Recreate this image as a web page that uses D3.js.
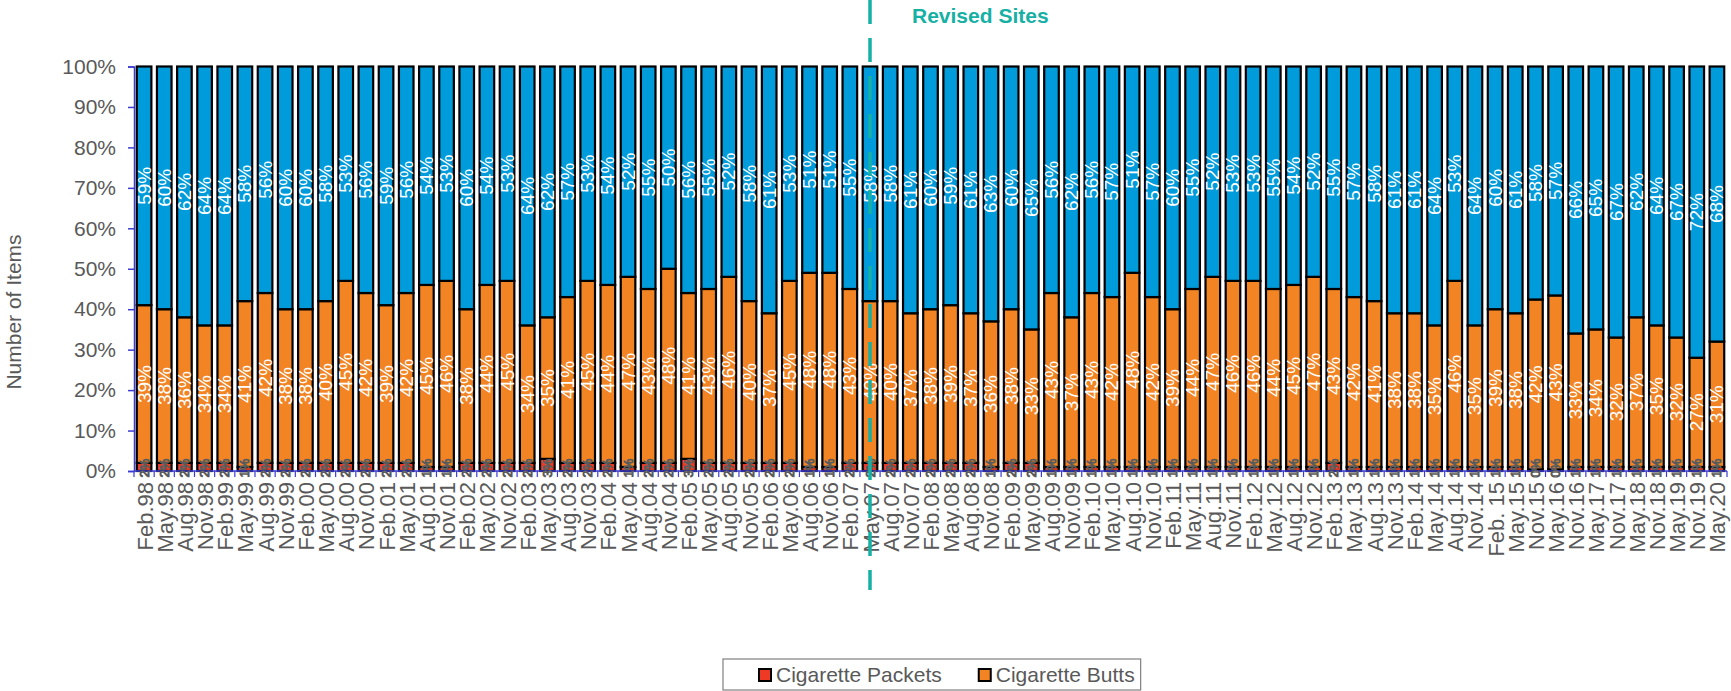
<!DOCTYPE html>
<html>
<head>
<meta charset="utf-8">
<script src="https://cdn.jsdelivr.net/npm/d3@7"></script>
<style>
  html, body { margin: 0; padding: 0; background: #ffffff; }
  svg { display: block; font-family: "Liberation Sans", Arial, sans-serif; }
</style>
</head>
<body>
<svg id="chart" width="1731" height="691"></svg>
<script>
const categories = [
  "Feb.98","May.98","Aug.98","Nov.98","Feb.99","May.99","Aug.99","Nov.99",
  "Feb.00","May.00","Aug.00","Nov.00","Feb.01","May.01","Aug.01","Nov.01",
  "Feb.02","May.02","Nov.02","Feb.03","May.03","Aug.03","Nov.03",
  "Feb.04","May.04","Aug.04","Nov.04","Feb.05","May.05","Aug.05","Nov.05",
  "Feb.06","May.06","Aug.06","Nov.06","Feb.07","May.07","Aug.07","Nov.07",
  "Feb.08","May.08","Aug.08","Nov.08","Feb.09","May.09","Aug.09","Nov.09",
  "Feb.10","May.10","Aug.10","Nov.10","Feb.11","May.11","Aug.11","Nov.11",
  "Feb.12","May.12","Aug.12","Nov.12","Feb.13","May.13","Aug.13","Nov.13",
  "Feb.14","May.14","Aug.14","Nov.14","Feb. 15","May.15","Nov.15",
  "May.16","Nov.16","May.17","Nov.17","May.18","Nov.18","May.19","Nov.19","May.20"
];

const cigarettePackets = [
  2,2,2,2,2,1,2,2,2,2, 2,2,2,2,1,1,2,2,2,2,
  3,2,2,2,1,2,2,3,2,2, 2,2,2,1,1,2,2,2,2,2,
  2,2,1,2,2,1,1,1,1,1, 1,1,1,1,1,1,1,1,1,2,
  1,1,1,1,1,1,1,1,1,0.4, 0.4,1,1,1,1,1,1,1,1
];

const cigaretteButts = [
  39,38,36,34,34,41,42,38,38,40, 45,42,39,42,45,46,38,44,45,34,
  35,41,45,44,47,43,48,41,43,46, 40,37,45,48,48,43,40,40,37,38,
  39,37,36,38,33,43,37,43,42,48, 42,39,44,47,46,46,44,45,47,43,
  42,41,38,38,35,46,35,39,38,42, 43,33,34,32,37,35,32,27,31
];

const otherItems = [
  59,60,62,64,64,58,56,60,60,58, 53,56,59,56,54,53,60,54,53,64,
  62,57,53,54,52,55,50,56,55,52, 58,61,53,51,51,55,58,58,61,60,
  59,61,63,60,65,56,62,56,57,51, 57,60,55,52,53,53,55,54,52,55,
  57,58,61,61,64,53,64,60,61,57.6, 56.6,66,65,67,62,64,67,72,68
];

const yTicks = [0,10,20,30,40,50,60,70,80,90,100];
const seriesNames = ["Cigarette Packets","Cigarette Butts","Other Items"];
const seriesColors = ["#EE3A24","#F28423","#009BDB"];
const legendNames = ["Cigarette Packets","Cigarette Butts"];
const markerCategory = "May.07";
const markerText = "Revised Sites";

const svg = d3.select("#chart");
const plotLeft = 134, plotRight = 1727, plotTop = 66.5, plotBottom = 471;

const x = d3.scaleBand().domain(categories).range([plotLeft, plotRight])
  .paddingInner(0.276).paddingOuter(0.138);
const y = d3.scaleLinear().domain([0, 100]).range([plotBottom, plotTop]);

const rows = categories.map((c, i) => ({
  cat: c,
  "Cigarette Packets": cigarettePackets[i],
  "Cigarette Butts": cigaretteButts[i],
  "Other Items": otherItems[i]
}));
const stack = d3.stack().keys(seriesNames)(rows);

const axisColor = "#3B3BD4";
const textGrey = "#595959";

// y axis
const yAxis = svg.append("g").attr("transform", `translate(${plotLeft},0)`)
  .call(d3.axisLeft(y).tickValues(yTicks).tickFormat(d => d + "%").tickSize(6).tickPadding(12));
yAxis.select(".domain").attr("stroke", axisColor).attr("stroke-width", 1.5);
yAxis.selectAll(".tick line").attr("stroke", axisColor).attr("stroke-width", 1.5);
yAxis.selectAll(".tick text").attr("fill", textGrey).style("font-size", "21px")
  .style("font-family", "'Liberation Sans', Arial, sans-serif");

// bars
const layers = svg.append("g").selectAll("g").data(stack).join("g")
  .attr("fill", (d, i) => seriesColors[i]);
layers.selectAll("rect").data(d => d).join("rect")
  .attr("x", d => x(d.data.cat))
  .attr("width", x.bandwidth())
  .attr("y", d => y(d[1]))
  .attr("height", d => y(d[0]) - y(d[1]))
  .attr("stroke", "#000")
  .attr("stroke-width", 2.2);

// x axis (category boundaries ticks)
const step = x.step();
const xAxisG = svg.append("g");
xAxisG.append("line").attr("x1", plotLeft).attr("x2", plotRight).attr("y1", plotBottom).attr("y2", plotBottom)
  .attr("stroke", axisColor).attr("stroke-width", 1.5);
xAxisG.selectAll("line.tk").data(d3.range(categories.length + 1)).join("line")
  .attr("class", "tk")
  .attr("x1", i => plotLeft + i * step).attr("x2", i => plotLeft + i * step)
  .attr("y1", plotBottom).attr("y2", plotBottom + 6)
  .attr("stroke", axisColor).attr("stroke-width", 1.2);

// x labels
svg.append("g").selectAll("text").data(categories).join("text")
  .attr("transform", d => `translate(${x(d) + x.bandwidth() / 2 + 1},${plotBottom + 11}) rotate(-90)`)
  .attr("text-anchor", "end")
  .attr("dominant-baseline", "central")
  .attr("fill", textGrey)
  .style("font-size", "22px")
  .text(d => d);

// data labels for butts and other
stack.forEach((layer, si) => {
  if (si === 0) return;
  svg.append("g").selectAll("text").data(layer).join("text")
    .attr("transform", d => `translate(${x(d.data.cat) + x.bandwidth() / 2},${y((d[0] + d[1]) / 2)}) rotate(-90)`)
    .attr("text-anchor", "middle")
    .attr("dominant-baseline", "central")
    .attr("fill", "#ffffff")
    .style("font-size", "19px")
    .text(d => Math.round(d[1] - d[0]) + "%");
});

// packets labels (small, rotated, at bottom)
svg.append("g").selectAll("text").data(stack[0]).join("text")
  .attr("transform", d => `translate(${x(d.data.cat) + x.bandwidth() / 2},${plotBottom - 3}) rotate(-90)`)
  .attr("text-anchor", "middle")
  .attr("dominant-baseline", "central")
  .attr("fill", "#f2f2f2")
  .attr("stroke", "#5a5a5a").attr("stroke-width", 1)
  .style("font-size", "13px")
  .text(d => Math.round(d[1] - d[0]) + "%");

// y axis title
svg.append("text")
  .attr("transform", "translate(21,312) rotate(-90)")
  .attr("text-anchor", "middle")
  .attr("fill", textGrey)
  .style("font-size", "21px")
  .text("Number of Items");

// revised sites marker
const mx = x(markerCategory) + x.bandwidth() / 2;
svg.append("line")
  .attr("x1", mx).attr("x2", mx).attr("y1", 0).attr("y2", 590)
  .attr("stroke", "#16B0A4").attr("stroke-width", 3.5)
  .attr("stroke-dasharray", "24,14");
svg.append("text")
  .attr("x", 912).attr("y", 23)
  .attr("fill", "#16B0A4")
  .style("font-size", "21px").style("font-weight", "bold")
  .text(markerText);

// legend
const lg = svg.append("g");
let cx = 759;
const positions = [];
legendNames.forEach((n, i) => {
  positions.push(cx);
  const t = svg.append("text").style("font-size", "21px").text(n);
  const w = t.node().getComputedTextLength();
  t.remove();
  cx += 17 + w + 37;
});
lg.append("rect")
  .attr("x", 723).attr("y", 659)
  .attr("width", (cx - 37 + 6) - 723).attr("height", 31)
  .attr("fill", "#fff").attr("stroke", "#7f7f7f").attr("stroke-width", 1.2);
const lgItems = lg.selectAll("g").data(legendNames).join("g");
lgItems.append("rect")
  .attr("x", (d, i) => positions[i]).attr("y", 669)
  .attr("width", 12).attr("height", 12)
  .attr("fill", (d, i) => seriesColors[i])
  .attr("stroke", "#000").attr("stroke-width", 2);
lgItems.append("text")
  .attr("x", (d, i) => positions[i] + 17).attr("y", 682)
  .attr("fill", textGrey)
  .style("font-size", "21px")
  .text(d => d);
</script>
</body>
</html>
